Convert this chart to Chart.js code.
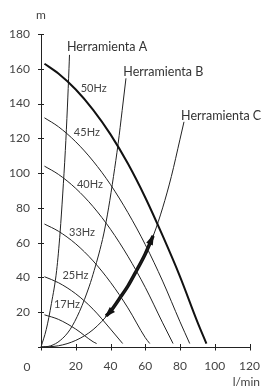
<!DOCTYPE html>
<html><head><meta charset="utf-8">
<script src="https://cdn.jsdelivr.net/npm/chart.js@4.4.1/dist/chart.umd.min.js"></script>
<style>html,body{margin:0;padding:0;background:#fff;}#wrap{width:264px;height:389px;}</style>
</head><body><div id="wrap"><canvas id="c" width="264" height="389"></canvas></div>
<script>
// ---- data ----
const xTicks = [0, 20, 40, 60, 80, 100, 120];
const yTicks = [0, 20, 40, 60, 80, 100, 120, 140, 160, 180];

// pump curves (l/min, m)
const curve50 = [[2,162.9],[10,157.3],[20,148.1],[30,136.4],[40,122.3],[50,105.5],[60,86],[70,64],[80,40.5],[90,14.5],[95.2,2]];
const curve45 = [[2,131.8],[10,126.7],[20,118],[30,106.9],[40,93.4],[50,77.3],[60,58.9],[70,37.9],[80,14.5],[85.6,2]];
const curve40 = [[2,104],[10,99.3],[20,91.2],[30,80.7],[40,67.7],[50,52.2],[60,34.3],[70,13.9],[76,2]];
const curve33 = [[2,70.7],[10,66.6],[20,59.3],[30,49.5],[40,37.2],[50,22.5],[60,5.4],[62.6,2]];
const curve25 = [[2,40.4],[10,37],[20,30.6],[30,21.7],[40,10.3],[47,2]];
const curve17 = [[2,18.5],[10,15.9],[20,10.3],[30,3],[32,2]];
const hzNames = ['50Hz', '45Hz', '40Hz', '33Hz', '25Hz', '17Hz'];
const hzLabelAt = [[30.3,148.4],[26.4,123.1],[28.2,93.7],[23.6,66.1],[19.8,41.4],[14.9,24.3]];

// system curves
const toolA = [[0,0],[3,10],[6,25],[9,44],[11,66],[12.5,88],[14,113],[15.2,138],[16.1,160],[16.4,168]];
const toolB = [[0,0],[5.6,0.7],[11.1,3.8],[16.7,10],[22.2,20.5],[27.8,35],[30.6,44],[33.3,53.5],[36.1,65],[38.9,80],[41.7,98],[44.4,117],[46.7,136],[48.9,154.5]];
const toolC = [[0,0],[10,0.7],[20,3.8],[30,10],[40,20.5],[50,35],[55,44],[60,53.5],[65,65],[70,80],[75,98],[80,119.5],[82.3,129.5]];
const toolNames = ['Herramienta A', 'Herramienta B', 'Herramienta C'];
const toolLabelAt = [[14.9,172.8],[47.4,158.1],[80.6,132.8]];

// double arrow along curve C
const arrowPath = [[37.5,17.9],[40,20.5],[45,27.6],[50,35],[55,44],[60,53.5],[64.5,63.9]];

const FONT = 'Lato, "DejaVu Sans", sans-serif';
const toXY = a => a.map(p => ({x: p[0], y: p[1]}));
function ds(arr, w, color) {
  return {data: toXY(arr), borderColor: color, borderWidth: w, pointRadius: 0,
          cubicInterpolationMode: 'monotone', fill: false, clip: false};
}

const deco = {
  id: 'deco',
  afterDatasetsDraw(chart) {
    const ctx = chart.ctx, xs = chart.scales.x, ys = chart.scales.y;
    const x0 = xs.getPixelForValue(0), y0 = ys.getPixelForValue(0);
    ctx.save();
    ctx.strokeStyle = '#222'; ctx.lineWidth = 1;
    ctx.beginPath();
    xTicks.forEach(v => { const px = Math.round(xs.getPixelForValue(v)) + 0.5; ctx.moveTo(px, y0 - 3); ctx.lineTo(px, y0 + 3.5); });
    yTicks.forEach(v => { const py = Math.round(ys.getPixelForValue(v)) + 0.5; ctx.moveTo(x0 - 3, py); ctx.lineTo(x0 + 3, py); });
    ctx.stroke();
    ctx.fillStyle = '#111';
    const head = (tip, from) => {
      const tx = xs.getPixelForValue(tip[0]), ty = ys.getPixelForValue(tip[1]);
      const fx = xs.getPixelForValue(from[0]), fy = ys.getPixelForValue(from[1]);
      const dx = tx - fx, dy = ty - fy, L = Math.hypot(dx, dy), ux = dx / L, uy = dy / L;
      const len = 9, hw = 3.6;
      ctx.beginPath();
      ctx.moveTo(tx + ux * 2, ty + uy * 2);
      ctx.lineTo(tx - ux * len - uy * hw, ty - uy * len + ux * hw);
      ctx.lineTo(tx - ux * len + uy * hw, ty - uy * len - ux * hw);
      ctx.closePath(); ctx.fill();
    };
    head(arrowPath[0], arrowPath[1]);
    head(arrowPath[arrowPath.length - 1], arrowPath[arrowPath.length - 2]);
    ctx.fillStyle = '#444'; ctx.font = '11px ' + FONT;
    ctx.textAlign = 'center'; ctx.textBaseline = 'middle';
    hzNames.forEach((t, i) => ctx.fillText(t, xs.getPixelForValue(hzLabelAt[i][0]), ys.getPixelForValue(hzLabelAt[i][1])));
    ctx.fillStyle = '#333'; ctx.font = '12.5px ' + FONT; ctx.textAlign = 'left';
    toolNames.forEach((t, i) => ctx.fillText(t, xs.getPixelForValue(toolLabelAt[i][0]), ys.getPixelForValue(toolLabelAt[i][1])));
    ctx.fillStyle = '#444'; ctx.font = '12px ' + FONT;
    ctx.textAlign = 'center';
    ctx.fillText('m', x0, ys.getPixelForValue(180) - 19);
    ctx.fillText('0', x0 - 14, y0 + 20);
    ctx.textAlign = 'right';
    ctx.fillText('l/min', 260, y0 + 35);
    ctx.restore();
  }
};

new Chart(document.getElementById('c'), {
  type: 'line',
  data: {
    datasets: [
      ds(curve50, 2, '#111'), ds(curve45, 1, '#222'), ds(curve40, 1, '#222'),
      ds(curve33, 1, '#222'), ds(curve25, 1, '#222'), ds(curve17, 1, '#222'),
      ds(toolA, 1, '#222'), ds(toolB, 1, '#222'), ds(toolC, 1, '#222'),
      Object.assign(ds(arrowPath, 3.5, '#111'), {borderCapStyle: 'butt'})
    ]
  },
  options: {
    responsive: false, animation: false, devicePixelRatio: 1,
    layout: {padding: {left: 0, top: 34, right: 14.5, bottom: 0}},
    plugins: {legend: {display: false}, tooltip: {enabled: false}},
    scales: {
      x: {type: 'linear', min: 0, max: 120,
          afterBuildTicks: s => { s.ticks = xTicks.map(v => ({value: v})); },
          afterFit: s => { s.height = 42; s.paddingLeft = 0; s.paddingRight = 0; },
          grid: {display: false, drawTicks: false},
          border: {display: true, color: '#222', width: 1},
          ticks: {padding: 12, color: '#444', font: {family: FONT, size: 12},
                  maxRotation: 0, autoSkip: false, callback: v => v === 0 ? '' : v}},
      y: {type: 'linear', min: 0, max: 180,
          afterBuildTicks: s => { s.ticks = yTicks.map(v => ({value: v})); },
          afterFit: s => { s.width = 41; s.paddingTop = 0; s.paddingBottom = 0; },
          grid: {display: false, drawTicks: false},
          border: {display: true, color: '#222', width: 1},
          ticks: {padding: 11, color: '#444', font: {family: FONT, size: 12},
                  autoSkip: false, callback: v => v === 0 ? '' : v}}
    }
  },
  plugins: [deco]
});
</script></body></html>
